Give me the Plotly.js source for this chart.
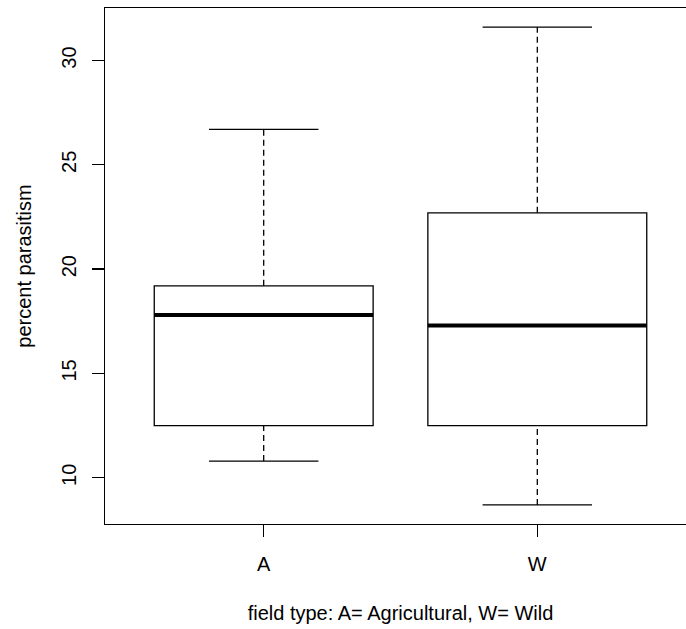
<!DOCTYPE html>
<html>
<head>
<meta charset="utf-8">
<script src="https://cdn.plot.ly/plotly-3.0.1.min.js"></script>
<style>
html, body { margin: 0; padding: 0; overflow: hidden; background: #fff; }
#chart { width: 720px; height: 629px; }
</style>
</head>
<body>
<div id="chart"></div>
<script>
// Data
const categories = ['A', 'W'];
const lowerWhisker = [10.8, 8.7];
const q1Values = [12.5, 12.5];
const medianValues = [17.8, 17.3];
const q3Values = [19.2, 22.7];
const upperWhisker = [26.7, 31.6];
const yTickValues = [10, 15, 20, 25, 30];

const FONT = 'Liberation Sans, Arial, sans-serif';
const pos = categories.map((c, i) => i + 1);

const traces = [];

// Boxes (Q1..Q3), whiskers drawn separately in R style
traces.push({
  type: 'box',
  x: pos,
  q1: q1Values,
  median: medianValues,
  q3: q3Values,
  lowerfence: q1Values,
  upperfence: q3Values,
  width: 0.8,
  fillcolor: 'rgba(255,255,255,0)',
  line: { color: '#000', width: 1.3 },
  whiskerwidth: 0,
  hoverinfo: 'skip',
  showlegend: false
});

// dashed whiskers
const wx = [], wy = [];
pos.forEach((p, i) => {
  wx.push(p, p, null, p, p, null);
  wy.push(lowerWhisker[i], q1Values[i], null, q3Values[i], upperWhisker[i], null);
});
traces.push({
  type: 'scatter', mode: 'lines', x: wx, y: wy,
  line: { color: '#000', width: 1.3, dash: '6px,4px' },
  hoverinfo: 'skip', showlegend: false
});

// staples (caps)
const cx = [], cy = [];
pos.forEach((p, i) => {
  cx.push(p - 0.2, p + 0.2, null, p - 0.2, p + 0.2, null);
  cy.push(lowerWhisker[i], lowerWhisker[i], null, upperWhisker[i], upperWhisker[i], null);
});
traces.push({
  type: 'scatter', mode: 'lines', x: cx, y: cy,
  line: { color: '#000', width: 1.3 },
  hoverinfo: 'skip', showlegend: false
});

// thick medians
const mx = [], my = [];
pos.forEach((p, i) => {
  mx.push(p - 0.4, p + 0.4, null);
  my.push(medianValues[i], medianValues[i], null);
});
traces.push({
  type: 'scatter', mode: 'lines', x: mx, y: my,
  line: { color: '#000', width: 4 },
  hoverinfo: 'skip', showlegend: false
});

const layout = {
  width: 720,
  height: 629,
  margin: { l: 105, r: 24, t: 8, b: 105 },
  paper_bgcolor: '#fff',
  plot_bgcolor: '#fff',
  font: { family: FONT, size: 20, color: '#000' },
  showlegend: false,
  hovermode: false,
  xaxis: {
    range: [0.42, 2.58],
    tickmode: 'array',
    tickvals: pos,
    ticktext: categories,
    ticks: 'outside',
    ticklen: 12,
    tickwidth: 1.3,
    tickcolor: '#000',
    showgrid: false,
    zeroline: false,
    showline: true,
    mirror: true,
    linecolor: '#000',
    linewidth: 1.3,
    ticklabelstandoff: 10,
    tickfont: { family: FONT, size: 20, color: '#000' },
    title: { text: 'field type: A= Agricultural, W= Wild', font: { family: FONT, size: 20, color: '#000' }, standoff: 31 }
  },
  yaxis: {
    range: [7.784, 32.516],
    tickmode: 'array',
    tickvals: yTickValues,
    ticktext: yTickValues.map(String),
    tickangle: -90,
    ticks: 'outside',
    ticklen: 12,
    tickwidth: 1.3,
    tickcolor: '#000',
    showgrid: false,
    zeroline: false,
    showline: true,
    mirror: true,
    linecolor: '#000',
    linewidth: 1.3,
    ticklabelstandoff: 8,
    tickfont: { family: FONT, size: 20, color: '#000' },
    title: { text: 'percent parasitism', font: { family: FONT, size: 20, color: '#000' }, standoff: 20 }
  }
};

Plotly.newPlot('chart', traces, layout, { staticPlot: true, displayModeBar: false });
</script>
</body>
</html>
